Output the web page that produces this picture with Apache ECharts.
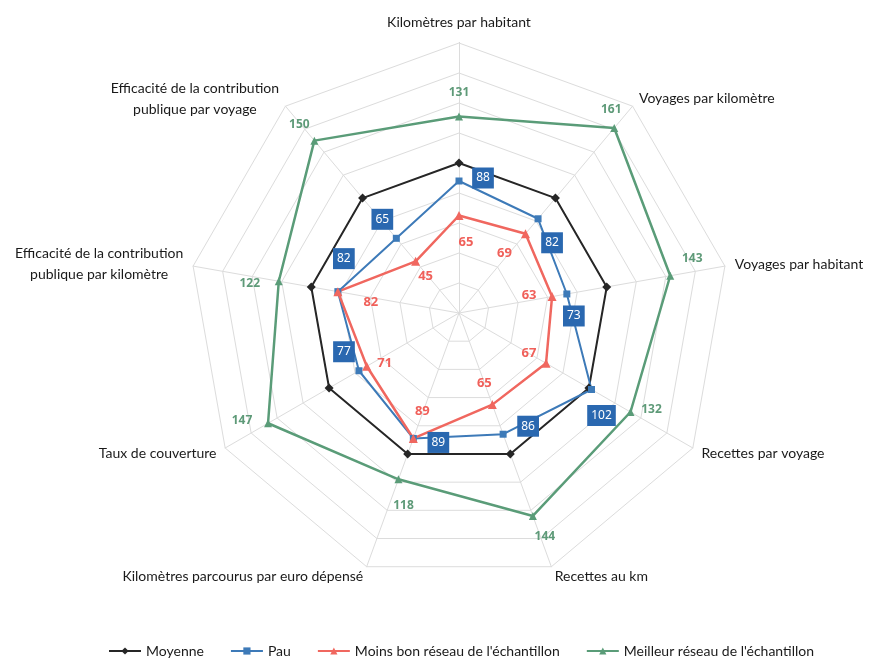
<!DOCTYPE html>
<html>
<head>
<meta charset="utf-8">
<script src="https://cdn.jsdelivr.net/npm/echarts@6/dist/echarts.min.js"></script>
<style>
  html, body { margin: 0; padding: 0; background: #ffffff; }
  #chart { width: 872px; height: 659px; }
</style>
</head>
<body>
<div id="chart"></div>
<script>
// Indicators, clockwise from the top
const categories = [
  'Kilomètres par habitant',
  'Voyages par kilomètre',
  'Voyages par habitant',
  'Recettes par voyage',
  'Recettes au km',
  'Kilomètres parcourus par euro dépensé',
  'Taux de couverture',
  'Efficacité de la contribution\npublique par kilomètre',
  'Efficacité de la contribution\npublique par voyage'
];

// Index values (average network = 100)
const moyenne  = [100, 100, 100, 100, 100, 100, 100, 100, 100];
const pau      = [88, 82, 73, 102, 86, 89, 77, 82, 65];
const moinsBon = [65, 69, 63, 67, 65, 89, 71, 82, 45];
const meilleur = [131, 161, 143, 132, 144, 118, 147, 122, 150];

const seriesNames = ['Moyenne', 'Pau', "Moins bon réseau de l'échantillon", "Meilleur réseau de l'échantillon"];

const scaleMax = 180;
const ringCount = 9;

// Label placement (pixel offsets from each point)
const pauLabelOffset      = [[24, -3], [14, 24], [7, 22], [10, 26], [25, -8], [25, 4], [-15, -19], [6, -33], [-14, -19]];
const moinsBonLabelOffset = [[7, 27], [-21, 20], [-23, -1], [-17, -10], [-8, -21], [9, -27], [18, -3], [33, 11], [10, 15]];
const meilleurLabelOffset = [[0, -24], [-3, -18], [22, -17], [21, -2], [12, 21], [5, 26], [-26, -3], [-29, 2], [-15, -16]];

const CENTER = [459, 313];
const RADIUS = 270;
const FONT = 'Lato';

const colors = {
  moyenne: '#262626',
  pau: '#3d7ab8',
  pauBox: '#2a68b0',
  moinsBon: '#f0675f',
  meilleur: '#5a9c78'
};

// The radar component draws its indicators counter-clockwise, so keep the first and reverse the rest
const radarOrder = [categories[0]].concat(categories.slice(1).reverse());

function closedLoop(values) {
  const pts = values.map((v, i) => [v, i]);
  pts.push({ value: [values[0], values.length], symbol: 'none' });
  return pts;
}

function lineSeries(name, values, color, symbol, size, width) {
  return {
    type: 'line',
    name: name,
    coordinateSystem: 'polar',
    data: closedLoop(values),
    symbol: symbol,
    symbolSize: size,
    lineStyle: { color: color, width: width },
    itemStyle: { color: color },
    z: 3
  };
}

function labelSeries(values, offsets, labelStyle) {
  return {
    type: 'scatter',
    coordinateSystem: 'polar',
    silent: true,
    symbolSize: 1,
    itemStyle: { color: 'rgba(0,0,0,0)', opacity: 1 },
    z: 6,
    data: values.map((v, i) => ({ value: [v, i], label: { offset: offsets[i] } })),
    label: Object.assign({
      show: true,
      position: 'inside',
      opacity: 1,
      formatter: p => String(p.value[0])
    }, labelStyle)
  };
}

const chart = echarts.init(document.getElementById('chart'), null, { renderer: 'canvas' });

chart.setOption({
  animation: false,
  backgroundColor: '#ffffff',
  radar: {
    center: CENTER,
    radius: RADIUS,
    startAngle: 90,
    shape: 'polygon',
    splitNumber: ringCount,
    nameGap: 10,
    indicator: radarOrder.map(n => ({ name: n, min: 0, max: scaleMax })),
    axisName: {
      color: '#1a1a1a',
      fontFamily: FONT,
      fontSize: 14,
      lineHeight: 21,
      formatter: name => name.split('\n').map(l => '{c|' + l + '}').join('\n'),
      rich: {
        c: { align: 'center', color: '#1a1a1a', fontFamily: FONT, fontSize: 14, lineHeight: 21 }
      }
    },
    splitLine: { lineStyle: { color: '#dcdcdc', width: 1 } },
    splitArea: { show: false },
    axisLine: { lineStyle: { color: '#dcdcdc', width: 1 } },
    axisTick: { show: false },
    axisLabel: { show: false }
  },
  polar: { center: CENTER, radius: RADIUS },
  angleAxis: {
    type: 'value', min: 0, max: categories.length, startAngle: 90, clockwise: true,
    axisLine: { show: false }, axisTick: { show: false }, axisLabel: { show: false }, splitLine: { show: false }
  },
  radiusAxis: {
    type: 'value', min: 0, max: scaleMax,
    axisLine: { show: true, lineStyle: { color: '#a6a6a6', width: 1 } },
    axisTick: { show: false }, axisLabel: { show: false }, splitLine: { show: false }
  },
  legend: {
    data: seriesNames,
    top: 639,
    left: 103,
    itemWidth: 32,
    itemHeight: 9,
    itemGap: 26,
    textStyle: { color: '#1a1a1a', fontFamily: FONT, fontSize: 14 }
  },
  series: [
    lineSeries(seriesNames[0], moyenne, colors.moyenne, 'diamond', 9, 2),
    lineSeries(seriesNames[1], pau, colors.pau, 'rect', 7, 2),
    lineSeries(seriesNames[2], moinsBon, colors.moinsBon, 'triangle', 9, 2.5),
    lineSeries(seriesNames[3], meilleur, colors.meilleur, 'triangle', 8, 2.5),
    labelSeries(pau, pauLabelOffset, {
      color: '#ffffff', backgroundColor: colors.pauBox, padding: [5, 4, 4, 4],
      fontFamily: 'Noto Sans', fontSize: 12
    }),
    labelSeries(moinsBon, moinsBonLabelOffset, {
      color: '#f0605a', fontFamily: 'Noto Sans', fontSize: 13, fontWeight: 'bold'
    }),
    labelSeries(meilleur, meilleurLabelOffset, {
      color: '#5e9a78', fontFamily: 'Noto Sans', fontSize: 12, fontWeight: 'bold'
    })
  ]
});
</script>
</body>
</html>
